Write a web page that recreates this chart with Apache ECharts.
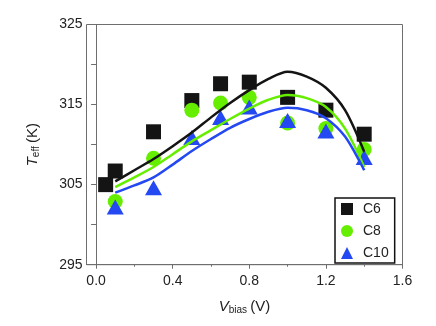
<!DOCTYPE html>
<html><head><meta charset="utf-8">
<script src="https://cdn.jsdelivr.net/npm/echarts@6/dist/echarts.min.js"></script>
<style>html,body{margin:0;padding:0;background:#fff}#c{width:436px;height:326px}</style>
</head><body><div id="c"></div>
<script>
const xC6 = [0.05,0.1,0.3,0.5,0.65,0.8,1.0,1.2,1.4];
const yC6 = [305.0,306.7,311.6,315.5,317.6,317.8,315.9,314.3,311.3];
const xC8 = [0.1,0.3,0.5,0.65,0.8,1.0,1.2,1.4];
const yC8 = [302.9,308.3,314.3,315.2,315.9,312.7,312.0,309.4];
const xC10 = [0.1,0.3,0.5,0.65,0.8,1.0,1.2,1.4];
const yC10 = [302.2,304.6,310.9,313.4,314.7,313.0,311.7,308.4];
const xFit = [0.1,0.2,0.3,0.4,0.5,0.6,0.7,0.8,0.9,1.0,1.1,1.2,1.3,1.4];
const fitC6 = [305.4,306.8,308.2,309.8,311.5,313.4,315.2,316.8,318.2,319.1,318.5,317.1,314.3,309.1];
const fitC8 = [304.7,305.9,307.2,308.8,310.4,311.8,313.2,314.5,315.6,316.2,315.8,314.7,312.0,307.2];
const fitC10 = [304.0,304.9,305.9,307.5,309.2,310.7,312.1,313.2,314.1,314.6,314.3,313.3,311.0,306.8];
const xTicks = [0,0.4,0.8,1.2,1.6];
const xMinorTicks = [0.2,0.6,1.0,1.4];
const yLabels = [295,305,315,325];

const colors = {C6:'#141414', C8:'#66ee00', C10:'#2448f2'};
const font = "'Liberation Sans',Arial,sans-serif";
const zip = (a,b)=>a.map((v,i)=>[v,b[i]]);
const axisCol = '#6e6e6e';

const chart = echarts.init(document.getElementById('c'), null, {renderer:'canvas'});
chart.setOption({
  animation:false,
  grid:{left:86.5, right:33.5, top:24.5, bottom:61.3, show:true, borderColor:axisCol, borderWidth:1},
  xAxis:[{
    type:'value', min:-0.05, max:1.6,
    axisLine:{show:true, onZero:false, lineStyle:{color:axisCol, width:1}},
    axisTick:{show:true, customValues:xTicks, length:4, lineStyle:{color:axisCol}},
    axisLabel:{customValues:xTicks, formatter:v=>v.toFixed(1), color:'#222', fontSize:14, fontFamily:font, margin:9},
    splitLine:{show:false},
    name:'{i|V}{s|bias} {n|(V)}', nameLocation:'middle', nameGap:33,
    nameTextStyle:{fontFamily:font, color:'#222', rich:{
      i:{fontStyle:'italic', fontSize:15, fontFamily:font, color:'#222'},
      s:{fontSize:10, fontFamily:font, color:'#222', verticalAlign:'bottom', padding:[8,0,0,0]},
      n:{fontSize:15, fontFamily:font, color:'#222'}}}
  },{
    type:'value', min:-0.05, max:1.6, position:'bottom',
    axisLine:{show:false},
    axisTick:{show:true, customValues:xMinorTicks, length:2, lineStyle:{color:axisCol}},
    axisLabel:{show:false}, splitLine:{show:false}
  }],
  yAxis:{
    type:'value', min:295, max:325, interval:5,
    axisLine:{show:true, lineStyle:{color:axisCol, width:1}},
    axisTick:{show:true, length:5, lineStyle:{color:axisCol}},
    axisLabel:{formatter:v=> yLabels.includes(v) ? String(v) : '', color:'#222', fontSize:14, fontFamily:font, margin:4},
    splitLine:{show:false},
    name:'{i|T}{s|eff} {n|(K)}', nameLocation:'middle', nameGap:45,
    nameTextStyle:{fontFamily:font, color:'#222', rich:{
      i:{fontStyle:'italic', fontSize:15, fontFamily:font, color:'#222'},
      s:{fontSize:10, fontFamily:font, color:'#222', verticalAlign:'bottom', padding:[8,0,0,0]},
      n:{fontSize:15, fontFamily:font, color:'#222'}}}
  },
  legend:{
    data:['C6','C8','C10'], orient:'vertical', left:335, top:198,
    borderColor:'#111', borderWidth:1.5, padding:[4,6,3,6],
    itemWidth:12, itemHeight:12, itemGap:8,
    textStyle:{fontSize:14, fontFamily:font, color:'#222', padding:[0,0,0,5]}
  },
  series:[
    {name:'C6', type:'scatter', symbol:'rect', symbolSize:15, z:2, itemStyle:{color:colors.C6, opacity:1}, data:zip(xC6,yC6)},
    {name:'C8', type:'scatter', symbol:'circle', symbolSize:15, z:3, itemStyle:{color:colors.C8, opacity:1}, data:zip(xC8,yC8)},
    {name:'C10', type:'scatter', symbol:'triangle', symbolSize:[17,15], z:4, itemStyle:{color:colors.C10, opacity:1}, data:zip(xC10,yC10)},
    {name:'fitC6', type:'line', smooth:0.3, showSymbol:false, z:5, lineStyle:{color:colors.C6, width:2.5}, data:zip(xFit,fitC6)},
    {name:'fitC8', type:'line', smooth:0.3, showSymbol:false, z:5, lineStyle:{color:colors.C8, width:2.5}, data:zip(xFit,fitC8)},
    {name:'fitC10', type:'line', smooth:0.3, showSymbol:false, z:5, lineStyle:{color:colors.C10, width:2.5}, data:zip(xFit,fitC10)}
  ]
});
</script></body></html>
